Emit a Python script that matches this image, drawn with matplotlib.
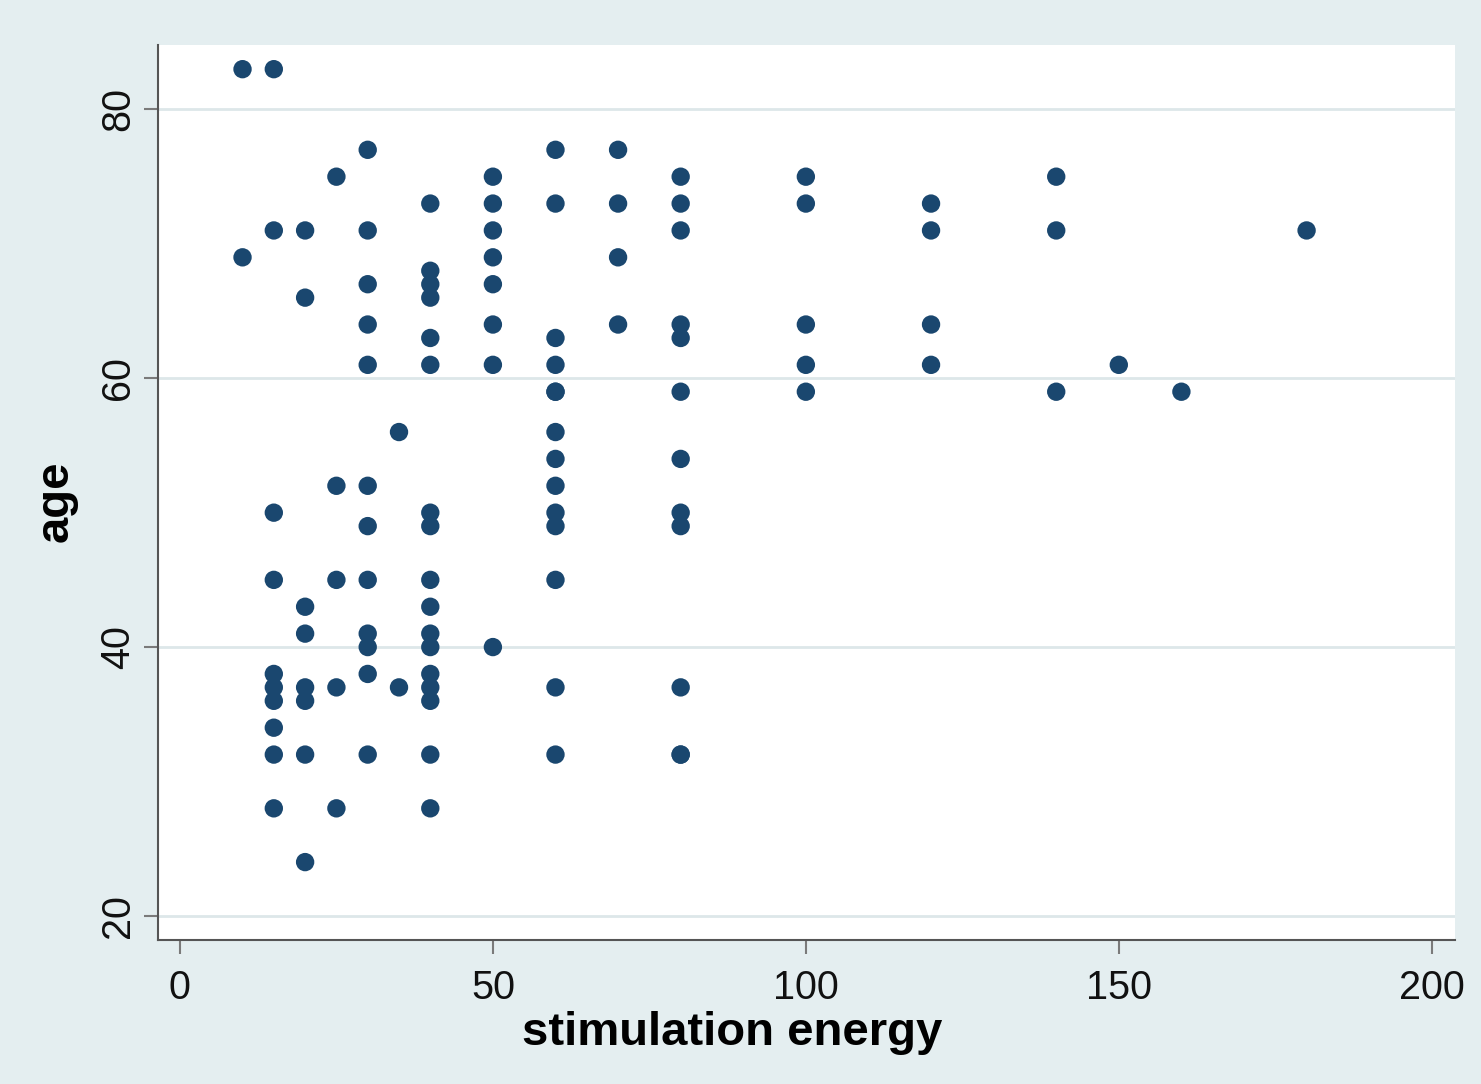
import matplotlib
matplotlib.use("Agg")
import matplotlib.pyplot as plt

# stimulation energy (x) and age (y)
energy = (
    [10, 10]
    + [15] * 10
    + [20] * 8
    + [25] * 5
    + [30] * 12
    + [35] * 2
    + [40] * 17
    + [50] * 8
    + [60] * 14
    + [70] * 4
    + [80] * 12
    + [100] * 5
    + [120] * 4
    + [140] * 3
    + [150, 160, 180]
)
age = (
    [83, 69]
    + [83, 71, 50, 45, 38, 37, 36, 34, 32, 28]
    + [71, 66, 43, 41, 37, 36, 32, 24]
    + [75, 52, 45, 37, 28]
    + [77, 71, 67, 64, 61, 52, 49, 45, 41, 40, 38, 32]
    + [56, 37]
    + [73, 68, 67, 66, 63, 61, 50, 49, 45, 43, 41, 40, 38, 37, 36, 32, 28]
    + [75, 73, 71, 69, 67, 64, 61, 40]
    + [77, 73, 63, 61, 59, 56, 54, 52, 50, 49, 45, 37, 32, 59]
    + [77, 73, 69, 64]
    + [75, 73, 71, 64, 63, 59, 54, 50, 49, 37, 32, 32]
    + [75, 73, 64, 61, 59]
    + [73, 71, 64, 61]
    + [75, 71, 59]
    + [61, 59, 71]
)
x_ticks = [0, 50, 100, 150, 200]
y_ticks = [20, 40, 60, 80]
x_label = "stimulation energy"
y_label = "age"

plt.rcParams["font.family"] = ["Liberation Sans", "DejaVu Sans"]

bg = "#e4eef0"
fig = plt.figure(figsize=(14.81, 10.84), dpi=100, facecolor=bg)
ax = fig.add_axes([0.1067, 0.1328, 0.8757, 0.8257])
ax.set_facecolor("white")

ax.scatter(energy, age, s=175, color="#1a476f", edgecolors="none", zorder=3)

ax.set_xlim(-3.5, 203.7)
ax.set_ylim(18.2, 84.8)
ax.set_xticks(x_ticks)
ax.set_yticks(y_ticks)
ax.set_yticklabels([str(v) for v in y_ticks], rotation=90, va="center")
ax.tick_params(axis="both", labelsize=28.5, length=10, width=1.5, color="#7a7a7a",
               labelcolor="#111111")
ax.tick_params(axis="x", pad=11)
ax.tick_params(axis="y", pad=5)
ax.grid(axis="y", color="#dde7e9", linewidth=2, zorder=0)
ax.grid(axis="x", visible=False)

for s in ["top", "right"]:
    ax.spines[s].set_visible(False)
for s in ["left", "bottom"]:
    ax.spines[s].set_color("#555555")
    ax.spines[s].set_linewidth(1.5)

ax.set_xlabel(x_label, fontsize=34, fontweight="bold")
ax.xaxis.set_label_coords(0.443, -0.079)
ax.set_ylabel(y_label, fontsize=34, fontweight="bold")
ax.yaxis.set_label_coords(-0.062, 0.49)

fig.savefig("out.png", dpi=100, facecolor=bg)
